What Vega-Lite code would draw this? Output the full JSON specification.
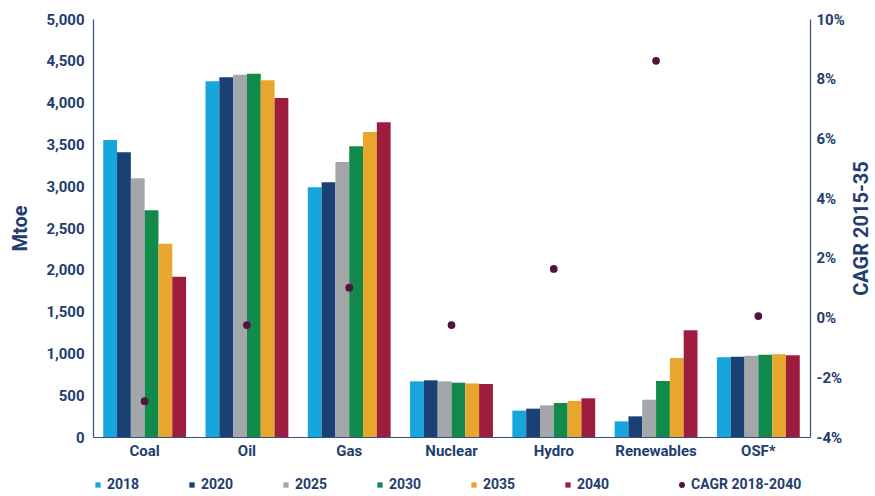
{
  "$schema": "https://vega.github.io/schema/vega-lite/v6.json",
  "width": 717,
  "height": 418,
  "autosize": {"type": "none"},
  "padding": {"left": 93, "top": 19, "right": 65, "bottom": 59},
  "background": "white",
  "config": {
    "view": {"stroke": null},
    "font": "Roboto",
    "axis": {"labelFont": "Roboto", "titleFont": "Roboto", "labelColor": "#1f3d6e", "titleColor": "#1f3d6e", "labelFontWeight": "bold", "titleFontWeight": "bold", "grid": false, "ticks": false, "domainColor": "#2f5283", "domainWidth": 1.2},
    "legend": {"labelFont": "Roboto", "labelColor": "#1f3d6e", "labelFontWeight": "bold", "labelFontSize": 14}
  },
  "layer": [
    {
      "data": {"values": [
        {"category": "Coal", "year": "2018", "value": 3553},
        {"category": "Coal", "year": "2020", "value": 3405},
        {"category": "Coal", "year": "2025", "value": 3094},
        {"category": "Coal", "year": "2030", "value": 2712},
        {"category": "Coal", "year": "2035", "value": 2313},
        {"category": "Coal", "year": "2040", "value": 1918},
        {"category": "Oil", "year": "2018", "value": 4254},
        {"category": "Oil", "year": "2020", "value": 4302},
        {"category": "Oil", "year": "2025", "value": 4334},
        {"category": "Oil", "year": "2030", "value": 4346},
        {"category": "Oil", "year": "2035", "value": 4266},
        {"category": "Oil", "year": "2040", "value": 4055},
        {"category": "Gas", "year": "2018", "value": 2986},
        {"category": "Gas", "year": "2020", "value": 3046},
        {"category": "Gas", "year": "2025", "value": 3289},
        {"category": "Gas", "year": "2030", "value": 3477},
        {"category": "Gas", "year": "2035", "value": 3648},
        {"category": "Gas", "year": "2040", "value": 3764},
        {"category": "Nuclear", "year": "2018", "value": 666},
        {"category": "Nuclear", "year": "2020", "value": 678},
        {"category": "Nuclear", "year": "2025", "value": 666},
        {"category": "Nuclear", "year": "2030", "value": 650},
        {"category": "Nuclear", "year": "2035", "value": 641},
        {"category": "Nuclear", "year": "2040", "value": 634},
        {"category": "Hydro", "year": "2018", "value": 315},
        {"category": "Hydro", "year": "2020", "value": 339},
        {"category": "Hydro", "year": "2025", "value": 379},
        {"category": "Hydro", "year": "2030", "value": 407},
        {"category": "Hydro", "year": "2035", "value": 431},
        {"category": "Hydro", "year": "2040", "value": 463},
        {"category": "Renewables", "year": "2018", "value": 187},
        {"category": "Renewables", "year": "2020", "value": 247},
        {"category": "Renewables", "year": "2025", "value": 446},
        {"category": "Renewables", "year": "2030", "value": 670},
        {"category": "Renewables", "year": "2035", "value": 945},
        {"category": "Renewables", "year": "2040", "value": 1276},
        {"category": "OSF*", "year": "2018", "value": 953},
        {"category": "OSF*", "year": "2020", "value": 961},
        {"category": "OSF*", "year": "2025", "value": 973},
        {"category": "OSF*", "year": "2030", "value": 985},
        {"category": "OSF*", "year": "2035", "value": 989},
        {"category": "OSF*", "year": "2040", "value": 977}
      ]},
      "mark": {"type": "bar"},
      "encoding": {
        "x": {"field": "category", "type": "nominal", "sort": ["Coal", "Oil", "Gas", "Nuclear", "Hydro", "Renewables", "OSF*"],
          "scale": {"domain": ["Coal", "Oil", "Gas", "Nuclear", "Hydro", "Renewables", "OSF*"], "paddingInner": 0.19, "paddingOuter": 0.1},
          "axis": {"title": null, "labelAngle": 0, "labelFontSize": 15, "labelPadding": 6}},
        "xOffset": {"field": "year", "type": "nominal", "scale": {"paddingInner": 0, "paddingOuter": 0}},
        "y": {"field": "value", "type": "quantitative", "scale": {"domain": [0, 5000], "nice": false},
          "axis": {"title": "Mtoe", "titleFontSize": 20, "labelFontSize": 15, "format": ",d", "values": [0, 500, 1000, 1500, 2000, 2500, 3000, 3500, 4000, 4500, 5000], "labelPadding": 9, "titlePadding": 15}},
        "color": {"field": "year", "type": "nominal",
          "scale": {"domain": ["2018", "2020", "2025", "2030", "2035", "2040"], "range": ["#17a5dd", "#1a4074", "#a3a7aa", "#128a4c", "#e8a62d", "#9e1c3d"]},
          "legend": {"title": null, "orient": "none", "direction": "horizontal", "legendX": -2, "legendY": 459, "symbolType": "square", "symbolSize": 28, "labelOffset": 2, "columnPadding": 45}}
      }
    },
    {
      "data": {"values": [
        {"category": "Coal", "cagr": -2.8, "series": "CAGR 2018-2040"},
        {"category": "Oil", "cagr": -0.25, "series": "CAGR 2018-2040"},
        {"category": "Gas", "cagr": 1.0, "series": "CAGR 2018-2040"},
        {"category": "Nuclear", "cagr": -0.25, "series": "CAGR 2018-2040"},
        {"category": "Hydro", "cagr": 1.63, "series": "CAGR 2018-2040"},
        {"category": "Renewables", "cagr": 8.6, "series": "CAGR 2018-2040"},
        {"category": "OSF*", "cagr": 0.05, "series": "CAGR 2018-2040"}
      ]},
      "mark": {"type": "point", "filled": true, "color": "#55113f", "opacity": 1, "size": 60},
      "encoding": {
        "x": {"field": "category", "type": "nominal", "sort": ["Coal", "Oil", "Gas", "Nuclear", "Hydro", "Renewables", "OSF*"]},
        "y": {"field": "cagr", "type": "quantitative", "scale": {"domain": [-4, 10], "nice": false},
          "axis": {"orient": "right", "title": "CAGR 2015-35", "titleAngle": 270, "titleFontSize": 20, "labelFontSize": 15, "values": [-4, -2, 0, 2, 4, 6, 8, 10], "labelExpr": "datum.value + '%'", "labelPadding": 6, "titlePadding": 27}},
        "shape": {"field": "series", "type": "nominal", "scale": {"range": ["circle"]},
          "legend": {"title": null, "orient": "none", "legendX": 582, "legendY": 459, "symbolFillColor": "#55113f", "symbolStrokeColor": "#55113f", "symbolSize": 36, "labelOffset": 2}}
      }
    }
  ],
  "resolve": {"scale": {"y": "independent"}}
}
